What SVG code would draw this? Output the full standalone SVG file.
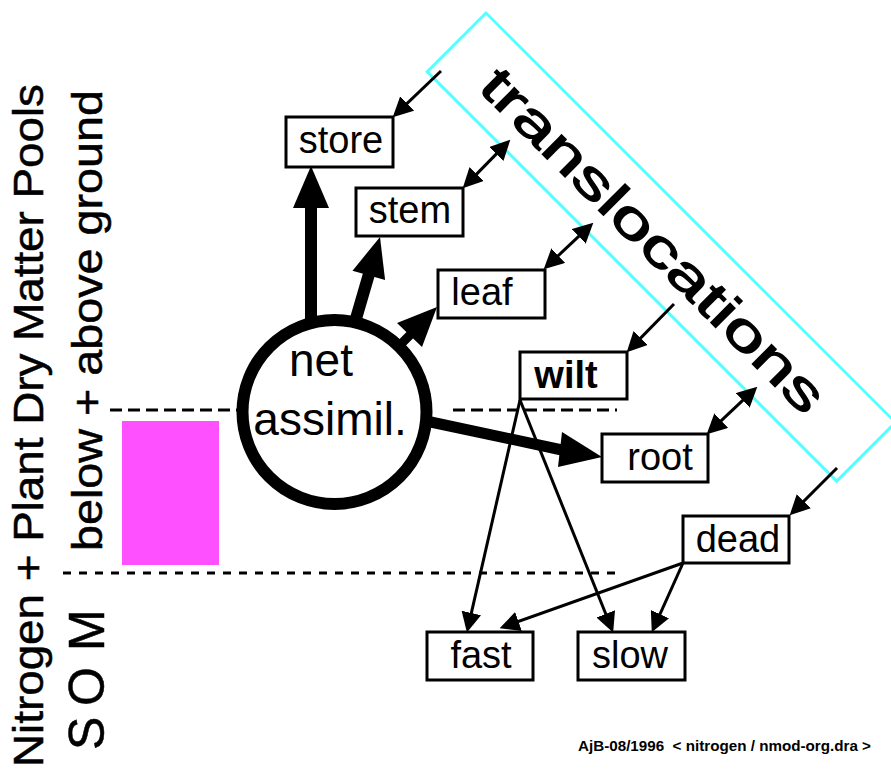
<svg xmlns="http://www.w3.org/2000/svg" width="891" height="769" viewBox="0 0 891 769">
<style>
text{font-family:"Liberation Sans",Arial,Helvetica,sans-serif;fill:#000}
.box{fill:#fff;stroke:#000;stroke-width:3}
.bt{font-size:38px;text-anchor:middle}
.thin{stroke:#000;stroke-width:3;fill:none}
.thick{stroke:#000;fill:none;stroke-linecap:butt}
.dash1{stroke:#000;stroke-width:3;stroke-dasharray:12 6}
.dash2{stroke:#000;stroke-width:3;stroke-dasharray:8 8}
</style>
<defs>
<marker id="ah" markerUnits="userSpaceOnUse" markerWidth="20" markerHeight="20" viewBox="0 0 18 18" refX="14" refY="9" orient="auto-start-reverse">
<path d="M0,0 L18,9 L0,18 z" fill="#000"/>
</marker>
</defs>
<rect x="0" y="0" width="891" height="769" fill="#fff"/>

<g id="labels">
<text font-size="42" transform="translate(43,767) rotate(-90)" textLength="683" lengthAdjust="spacingAndGlyphs" stroke="#000" stroke-width="0.5">Nitrogen + Plant Dry Matter Pools</text>
<text font-size="42" transform="translate(102,551) rotate(-90)" textLength="461" lengthAdjust="spacingAndGlyphs" stroke="#000" stroke-width="0.5">below + above ground</text>
<text font-size="50" transform="translate(104,750) rotate(-90)" stroke="#000" stroke-width="0.5"><tspan x="0">S</tspan><tspan x="44">O</tspan><tspan x="99">M</tspan></text>
<text font-size="15" font-weight="bold" x="578" y="751" textLength="293" lengthAdjust="spacingAndGlyphs" style="white-space:pre">AjB-08/1996  &lt; nitrogen / nmod-org.dra &gt;</text>
</g>

<g id="pool-bar">
<rect x="122" y="421" width="97" height="144" fill="#ff50ff"/>
</g>

<g id="levels">
<line class="dash1" x1="110" y1="410" x2="240" y2="410"/>
<line class="dash1" x1="453" y1="410" x2="617" y2="410"/>
<line class="dash2" x1="63" y1="573" x2="620" y2="573"/>
</g>

<g id="translocations" transform="translate(486,13) rotate(45)">
<rect x="0" y="0" width="579" height="83" fill="none" stroke="#55ffff" stroke-width="3"/>
<text x="47" y="60" font-size="52" textLength="464" lengthAdjust="spacingAndGlyphs" stroke="#000" stroke-width="1.2">translocations</text>
</g>

<g id="connectors">
<line class="thick" stroke-width="12" x1="311" y1="322" x2="311" y2="206"/>
<polygon points="293,208 329,208 311,166" fill="#000"/>
<line class="thick" stroke-width="12" x1="355" y1="322" x2="369" y2="274"/>
<polygon points="352.5,270.7 385.1,280.1 380,237" fill="#000"/>
<line class="thick" stroke-width="9" x1="399" y1="346" x2="411" y2="334"/>
<polygon points="397,323 422,347 437,307" fill="#000"/>
<line class="thick" stroke-width="11" x1="426" y1="421" x2="562" y2="450"/>
<polygon points="562,432 558,467 602,457" fill="#000"/>

<line class="thin" x1="441" y1="71" x2="395.9" y2="114.2" marker-end="url(#ah)"/>
<line class="thin" x1="465.8" y1="185.1" x2="507.2" y2="142.9" marker-start="url(#ah)" marker-end="url(#ah)"/>
<line class="thin" x1="546.9" y1="266.3" x2="590.1" y2="225.7" marker-start="url(#ah)" marker-end="url(#ah)"/>
<line class="thin" x1="674" y1="304" x2="629.8" y2="349.1" marker-end="url(#ah)"/>
<line class="thin" x1="709.9" y1="431.3" x2="754.1" y2="389.7" marker-start="url(#ah)" marker-end="url(#ah)"/>
<line class="thin" x1="837" y1="468" x2="792.8" y2="512.2" marker-end="url(#ah)"/>
<line class="thin" x1="520" y1="400" x2="467.9" y2="628.1" marker-end="url(#ah)"/>
<line class="thin" x1="520" y1="400" x2="611.5" y2="628.3" marker-end="url(#ah)"/>
<line class="thin" x1="683" y1="563" x2="503.8" y2="626.7" marker-end="url(#ah)"/>
<line class="thin" x1="683" y1="563" x2="653.6" y2="628.3" marker-end="url(#ah)"/>
</g>

<g id="net-assimil">
<circle cx="334.5" cy="412" r="92" fill="#fff" stroke="#000" stroke-width="12"/>
<text x="321" y="376" font-size="46" text-anchor="middle">net</text>
<text x="330" y="435" font-size="46" text-anchor="middle">assimil.</text>
</g>

<g id="store"><rect class="box" x="286" y="117" width="107" height="50"/><text class="bt" x="341" y="153">store</text></g>
<g id="stem"><rect class="box" x="356" y="188" width="107" height="48"/><text class="bt" x="410" y="223">stem</text></g>
<g id="leaf"><rect class="box" x="438" y="270" width="107" height="48"/><text class="bt" x="482" y="305">leaf</text></g>
<g id="wilt"><rect class="box" x="520" y="352" width="107" height="47"/><text class="bt" x="566" y="388" font-weight="bold">wilt</text></g>
<g id="root"><rect class="box" x="602" y="434" width="106" height="48"/><text class="bt" x="660" y="470">root</text></g>
<g id="dead"><rect class="box" x="683" y="516" width="106" height="47"/><text class="bt" x="738" y="552">dead</text></g>
<g id="fast"><rect class="box" x="427" y="632" width="106" height="48"/><text class="bt" x="481" y="668">fast</text></g>
<g id="slow"><rect class="box" x="578" y="632" width="107" height="48"/><text class="bt" x="630" y="668">slow</text></g>
</svg>
